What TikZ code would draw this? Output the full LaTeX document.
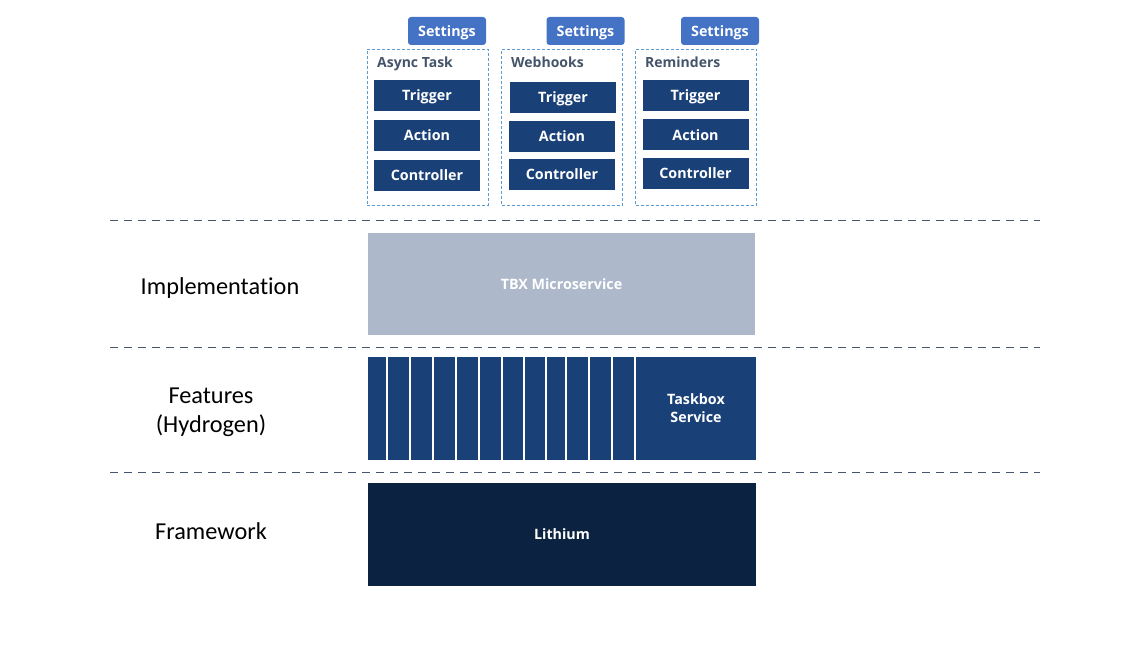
\documentclass[tikz,border=0pt]{standalone}
\usepackage{fontspec}
\setmainfont{Carlito}[Ligatures=NoCommon]
\newfontfamily\boxfont{Open Sans}
\usepackage{tikz}
\usetikzlibrary{positioning}
\definecolor{primary}{RGB}{26,64,120}
\definecolor{settingsblue}{RGB}{68,114,196}
\definecolor{dark}{RGB}{68,84,106}
\definecolor{lithium}{RGB}{11,34,64}
\definecolor{tbxgray}{RGB}{173,185,202}
\definecolor{dotblue}{RGB}{91,155,213}
\tikzset{
    block/.style={rectangle, inner sep=0pt, text centered, fill=primary, text=white, font=\boxfont\bfseries\fontsize{14.3}{18}\selectfont, align=center},
    oneline/.style={text height=13.8pt, text depth=3.5pt},
    part/.style={block, oneline, minimum width=106pt, minimum height=31pt},
    settings/.style={block, oneline, fill=settingsblue, rounded corners=3pt, minimum width=78pt, minimum height=28pt},
    group/.style={rectangle, draw=dotblue, line width=0.8pt, dash pattern=on 3pt off 2pt, minimum width=121pt, minimum height=156pt, inner sep=0pt},
    grouptitle/.style={anchor=base west, inner sep=0pt, text=dark, font=\boxfont\bfseries\fontsize{14}{16}\selectfont},
    strip/.style={block, minimum width=21pt, minimum height=103pt},
    tier/.style={block, oneline, minimum width=388pt, minimum height=103pt},
    layerlabel/.style={align=center, font=\fontsize{24.3}{29}\selectfont, text=black},
    separator/.style={draw=dark, line width=1pt, dash pattern=on 8pt off 6pt}
}
\begin{document}
\begin{tikzpicture} [x=1pt, y=-1pt]
    \useasboundingbox (0,0) rectangle (1148,652);

    % Settings tabs
    \node[settings] (settings_async) at (447,31) {Settings};
    \node[settings] (settings_webhooks) at (585.5,31) {Settings};
    \node[settings] (settings_reminders) at (720,31) {Settings};

    % Async Task group
    \node[group] (async_group) at (427.5,127) {};
    \node[grouptitle] (async_title) at (377,68) {Async Task};
    \node[part] (async_trigger) at (427,95.5) {Trigger};
    \node[part] (async_action) at (427,135.5) {Action};
    \node[part] (async_controller) at (427,175.5) {Controller};

    % Webhooks group
    \node[group] (webhooks_group) at (562,127) {};
    \node[grouptitle] (webhooks_title) at (511,68) {Webhooks};
    \node[part] (webhooks_trigger) at (563,97.5) {Trigger};
    \node[part] (webhooks_action) at (562,136.5) {Action};
    \node[part] (webhooks_controller) at (562,174.5) {Controller};

    % Reminders group
    \node[group] (reminders_group) at (696,127) {};
    \node[grouptitle] (reminders_title) at (645,68) {Reminders};
    \node[part] (reminders_trigger) at (695.5,95.5) {Trigger};
    \node[part] (reminders_action) at (695.5,135) {Action};
    \node[part] (reminders_controller) at (695.5,173.5) {Controller};

    % Layer separators
    \draw[separator] (110,221) -- (1040,221);
    \draw[separator] (110,347) -- (1040,347);
    \draw[separator] (110,472) -- (1040,472);

    % Implementation layer
    \node[layerlabel] (impl_label) at (220,288) {Implementation};
    \node[tier, fill=tbxgray, minimum width=387pt, minimum height=102pt] (tbx) at (561.5,284) {TBX Microservice};

    % Features layer
    \node[layerlabel] (features_label) at (211,412) {Features\\(Hydrogen)};
    \node[strip, minimum width=18pt] (feature_1) at (377,408.5) {};
    \node[strip] (feature_2) at (398.5,408.5) {};
    \node[strip] (feature_3) at (421.5,408.5) {};
    \node[strip] (feature_4) at (444.5,408.5) {};
    \node[strip] (feature_5) at (467.5,408.5) {};
    \node[strip] (feature_6) at (490.5,408.5) {};
    \node[strip, minimum width=20pt] (feature_7) at (513,408.5) {};
    \node[strip, minimum width=20pt] (feature_8) at (535,408.5) {};
    \node[strip, minimum width=18pt] (feature_9) at (556,408.5) {};
    \node[strip] (feature_10) at (577.5,408.5) {};
    \node[strip] (feature_11) at (600.5,408.5) {};
    \node[strip] (feature_12) at (623.5,408.5) {};
    \node[strip, minimum width=120pt] (taskbox) at (696,408.5) {Taskbox\\Service};

    % Framework layer
    \node[layerlabel] (framework_label) at (211,531) {Framework};
    \node[tier, fill=lithium] (lithium) at (562,534.5) {Lithium};
\end{tikzpicture}
\end{document}
